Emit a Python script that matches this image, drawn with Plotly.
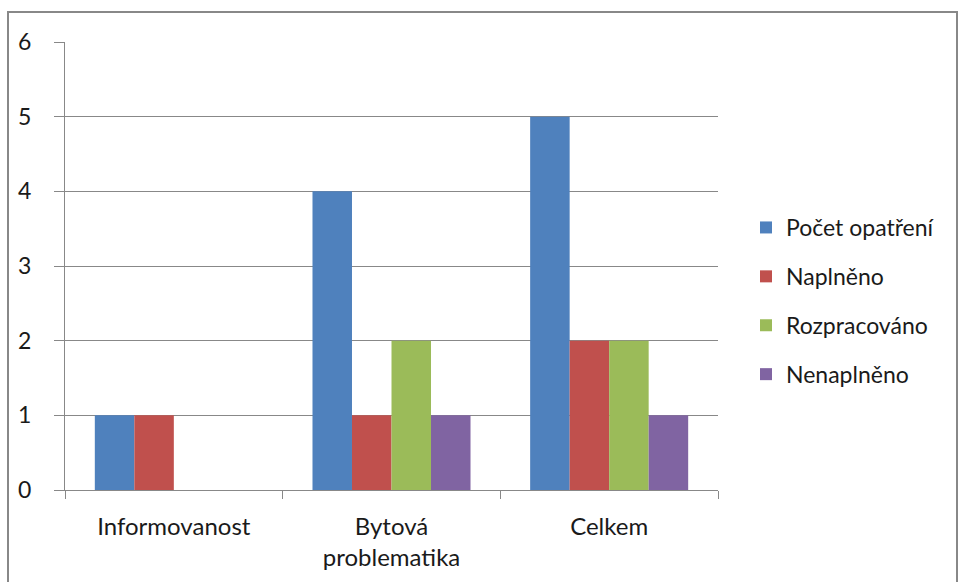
import plotly.graph_objects as go

categories = ["Informovanost", "Bytová<br>problematika", "Celkem"]
series_names = ["Počet opatření", "Naplněno", "Rozpracováno", "Nenaplněno"]
pocet = [1, 4, 5]
naplneno = [1, 1, 2]
rozpracovano = [0, 2, 2]
nenaplneno = [0, 1, 1]
colors = ["#4F81BD", "#C0504D", "#9BBB59", "#8064A2"]
y_ticks = [0, 1, 2, 3, 4, 5, 6]

values = [pocet, naplneno, rozpracovano, nenaplneno]

fig = go.Figure()
for i, (name, vals) in enumerate(zip(series_names, values)):
    fig.add_trace(go.Bar(x=categories, y=vals, name=name, marker_color=colors[i],
                         marker_line_width=0, legendgroup=str(i)))

W, H = 959, 582
fig.update_layout(
    width=W, height=H,
    paper_bgcolor="white", plot_bgcolor="white",
    margin=dict(l=65, r=W - 718, t=42, b=H - 490, autoexpand=False),
    barmode="group", bargap=0.274, bargroupgap=0,
    font=dict(family="Lato, Open Sans, sans-serif", size=23, color="#1a1a1a"),
    showlegend=True,
    legend=dict(x=(746 - 65) / (718 - 65), y=(490 - 301) / (490 - 42),
                xanchor="left", yanchor="middle",
                font=dict(size=23), tracegroupgap=16, itemwidth=30,
                bgcolor="rgba(0,0,0,0)"),
    shapes=[dict(type="rect", xref="paper", yref="paper",
                 x0=(8 - 65) / (718 - 65), x1=(957 - 65) / (718 - 65),
                 y0=(490 - 600) / (490 - 42), y1=(490 - 12) / (490 - 42),
                 line=dict(color="#888888", width=2), fillcolor="rgba(0,0,0,0)",
                 layer="below")],
)
fig.update_yaxes(range=[0, 6], tickvals=y_ticks, showgrid=True, gridcolor="#888888",
                 gridwidth=1, showline=True, linecolor="#888888", linewidth=1,
                 ticks="outside", ticklen=10, tickcolor="#888888", zeroline=False,
                 ticklabelstandoff=18, tickfont=dict(size=23))
fig.update_xaxes(showline=True, linecolor="#888888", linewidth=1, mirror=False,
                 ticks="outside", ticklen=8, tickcolor="#888888",
                 tickson="boundaries", ticklabelstandoff=15, tickfont=dict(size=24))

fig.write_html("out.html", config={"displayModeBar": False},
               post_script="document.body.style.margin='0px';")
